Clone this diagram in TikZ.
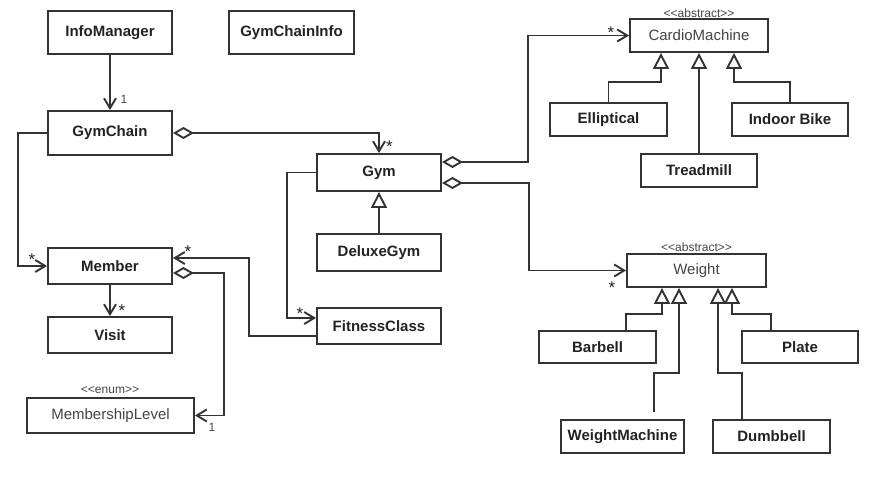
\documentclass[tikz,border=0pt]{standalone}
\usepackage{fontspec}
\setmainfont{Liberation Sans}
\usetikzlibrary{arrows.meta}
\definecolor{lc}{HTML}{333333}
\definecolor{tb}{HTML}{222222}
\definecolor{tr}{HTML}{444444}
\newcommand\guil[1]{<\kern0pt<#1>\kern0pt>}
\begin{document}
\begin{tikzpicture}[x=1pt,y=-1pt,
  cls/.style={draw=lc, line width=1.9pt, inner sep=0pt, text=tb, font=\fontsize{15}{18}\selectfont\bfseries},
  acls/.style={cls, text=tr, font=\fontsize{15}{18}\selectfont},
  conn/.style={draw=lc, line width=1.9pt},
  nav/.style={conn, -{Straight Barb[length=10pt,width=12pt]}},
  agg/.style={conn, {Diamond[open,fill=white,length=21pt,width=12pt]}-{Straight Barb[length=10pt,width=12pt]}},
  gen/.style={conn, -{Triangle[open,fill=white,length=16pt,width=16pt]}},
  mult/.style={text=tr, font=\fontsize{12}{14}\selectfont, inner sep=0pt},
  star/.style={text=tb, font=\fontsize{17}{18}\selectfont, inner sep=0pt},
  stereo/.style={text=tr, font=\fontsize{12}{14}\selectfont, inner sep=0pt}]
\useasboundingbox (0,0) rectangle (873,477);
% classes
\node[cls, minimum width=124pt, minimum height=43pt] (info) at (110,32.5) {InfoManager};
\node[cls, minimum width=125pt, minimum height=43pt] (chaininfo) at (291.5,32.5) {GymChainInfo};
\node[cls, minimum width=124pt, minimum height=44pt] (chain) at (110,133) {GymChain};
\node[cls, minimum width=124pt, minimum height=37pt] (gym) at (379,172.5) {Gym};
\node[cls, minimum width=124pt, minimum height=37pt] (deluxe) at (379,252.5) {DeluxeGym};
\node[cls, minimum width=124pt, minimum height=36pt] (fitness) at (379,326) {FitnessClass};
\node[cls, minimum width=124pt, minimum height=36pt] (member) at (110,266) {Member};
\node[cls, minimum width=124pt, minimum height=36pt] (visit) at (110,335) {Visit};
\node[acls, minimum width=167pt, minimum height=35pt] (level) at (110.5,415.5) {MembershipLevel};
\node[acls, minimum width=138pt, minimum height=33pt] (cardio) at (699,35.5) {CardioMachine};
\node[cls, minimum width=117pt, minimum height=33pt] (ellip) at (608.5,119.5) {Elliptical};
\node[cls, minimum width=116pt, minimum height=33pt] (bike) at (790,119.5) {Indoor Bike};
\node[cls, minimum width=116pt, minimum height=33pt] (tread) at (699,170.5) {Treadmill};
\node[acls, minimum width=139pt, minimum height=33pt] (weight) at (696.5,270.5) {Weight};
\node[cls, minimum width=117pt, minimum height=32pt] (barbell) at (597.5,347) {Barbell};
\node[cls, minimum width=116pt, minimum height=32pt] (plate) at (800,347) {Plate};
\node[cls, minimum width=123pt, minimum height=33pt] (wmach) at (622.5,436.5) {WeightMachine};
\node[cls, minimum width=117pt, minimum height=33pt] (dumb) at (771.5,436.5) {Dumbbell};
% stereotypes
\node[stereo] (st1) at (699,13) {\guil{abstract}};
\node[stereo] (st2) at (696.5,247) {\guil{abstract}};
\node[stereo] (st3) at (110,390) {\guil{enum}};
% connectors
\draw[nav] (info) -- (chain);
\node[mult] (m1) at (124,99) {1};
\draw[agg] (chain.east) -| (gym.north);
\node[star] (m2) at (389.5,146.6) {*};
\draw[nav] (chain.west) -- ++(-29,0) |- (member.west);
\node[star] (m3) at (32,259.6) {*};
\draw[nav] (member) -- (visit);
\node[star] (m4) at (122,310.6) {*};
\draw[agg] ([yshift=-7pt]member.east) -- ++(51,0) |- (level.east);
\node[mult] (m5) at (212,427) {1};
\draw[nav] ([yshift=-10pt]fitness.west) -| ([xshift=76pt,yshift=8pt]member.east) -- ([yshift=8pt]member.east);
\node[star] (m6) at (188,251.6) {*};
\draw[nav] (gym.west) -- ++(-29,0) |- ([yshift=8pt]fitness.west);
\node[star] (m7) at (300,313.6) {*};
\draw[gen] (deluxe) -- (gym);
\draw[agg] ([yshift=10.5pt]gym.east) -| ([xshift=-101pt]cardio.west) -- (cardio.west);
\node[star] (m8) at (611,32.6) {*};
\draw[agg] ([yshift=-10.5pt]gym.east) -| ([xshift=-97.5pt]weight.west) -- (weight.west);
\node[star] (m9) at (612,287.6) {*};
% cardio generalizations
\draw[gen] (ellip.north) |- ([xshift=-38pt,yshift=-29pt]cardio.south) -- ([xshift=-38pt]cardio.south);
\draw[gen] (tread) -- (cardio);
\draw[gen] (bike.north) |- ([xshift=35pt,yshift=-29pt]cardio.south) -- ([xshift=35pt]cardio.south);
% weight generalizations
\draw[gen] ([xshift=28.5pt]barbell.north) |- ([xshift=-34.5pt,yshift=-26pt]weight.south) -- ([xshift=-34.5pt]weight.south);
\draw[gen] ([xshift=-29pt]plate.north) |- ([xshift=35.5pt,yshift=-26pt]weight.south) -- ([xshift=35.5pt]weight.south);
\draw[gen] ([xshift=31.5pt,yshift=7pt]wmach.north) |- ([xshift=-17.5pt,yshift=-85pt]weight.south) -- ([xshift=-17.5pt]weight.south);
\draw[gen] ([xshift=-29.5pt]dumb.north) |- ([xshift=21.5pt,yshift=-85pt]weight.south) -- ([xshift=21.5pt]weight.south);
\end{tikzpicture}
\end{document}
